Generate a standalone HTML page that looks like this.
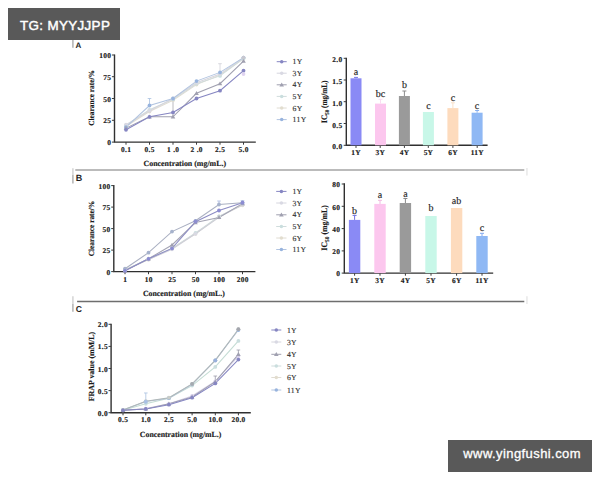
<!DOCTYPE html>
<html><head><meta charset="utf-8"><style>
html,body{margin:0;padding:0;background:#fff;}
body{width:600px;height:480px;position:relative;overflow:hidden;}
svg{position:absolute;left:0;top:0;text-rendering:geometricPrecision;}
.tk{font-family:"Liberation Serif", serif;font-weight:bold;font-size:7.4px;letter-spacing:0.3px;fill:#1a1a1a;stroke:#1a1a1a;stroke-width:0.15px;}
.ti{font-family:"Liberation Serif", serif;font-weight:bold;font-size:7.8px;fill:#1a1a1a;stroke:#1a1a1a;stroke-width:0.15px;}
.lg{font-family:"Liberation Serif", serif;font-size:7.7px;letter-spacing:0.35px;fill:#333;stroke:#333;stroke-width:0.15px;}
.lt{font-family:"Liberation Serif", serif;font-size:10px;fill:#262626;stroke:#262626;stroke-width:0.15px;}
.pl{font-family:"Liberation Sans", sans-serif;font-weight:bold;font-size:8px;fill:#1e1e1e;}
.wm{position:absolute;background:#595959;color:#fff;font-family:"Liberation Sans", sans-serif;}
</style></head><body>
<svg width="600" height="480" viewBox="0 0 600 480">

<path d="M75.3 170.1H524.3" stroke="#a4a4a4" stroke-width="1.5"/>
<path d="M77.1 301.4H524.3" stroke="#6e6e6e" stroke-width="1.5"/>
<path d="M72.9 40V47.8M72.9 175V183.6M72.9 304V311.8" stroke="#b2b2b2" stroke-width="1.5"/>
<path d="M72.9 168.2V175M72.9 296.2V304" stroke="#d4d4d4" stroke-width="1.5"/>
<path d="M526.9 168V175.5M526.9 296.2V304" stroke="#ececec" stroke-width="1.8"/>
<text x="75.6" y="48" class="pl">A</text>
<text x="75.8" y="180.8" class="pl" style="font-size:9px">B</text>
<text x="75.8" y="312" class="pl" style="font-size:8.6px">C</text>
<path d="M114.5 54.5V142.1H255.8" fill="none" stroke="#303030" stroke-width="1.4" stroke-linejoin="miter"/>
<path d="M111.9 142.1H114.5" stroke="#3a3a3a" stroke-width="1"/>
<path d="M111.9 120.3H114.5" stroke="#3a3a3a" stroke-width="1"/>
<path d="M111.9 98.5H114.5" stroke="#3a3a3a" stroke-width="1"/>
<path d="M111.9 76.7H114.5" stroke="#3a3a3a" stroke-width="1"/>
<path d="M111.9 55H114.5" stroke="#3a3a3a" stroke-width="1"/>
<path d="M126 142.1V144.7" stroke="#3a3a3a" stroke-width="1"/>
<path d="M149.5 142.1V144.7" stroke="#3a3a3a" stroke-width="1"/>
<path d="M173 142.1V144.7" stroke="#3a3a3a" stroke-width="1"/>
<path d="M196.5 142.1V144.7" stroke="#3a3a3a" stroke-width="1"/>
<path d="M220 142.1V144.7" stroke="#3a3a3a" stroke-width="1"/>
<path d="M243.5 142.1V144.7" stroke="#3a3a3a" stroke-width="1"/>
<text x="111.20" y="145.10" text-anchor="end" class="tk">0</text>
<text x="111.20" y="123.30" text-anchor="end" class="tk">25</text>
<text x="111.20" y="101.50" text-anchor="end" class="tk">50</text>
<text x="111.20" y="79.70" text-anchor="end" class="tk">75</text>
<text x="111.20" y="58.00" text-anchor="end" class="tk">100</text>
<text x="126.15" y="152.20" text-anchor="middle" class="tk">0.1</text>
<text x="149.65" y="152.20" text-anchor="middle" class="tk">0.5</text>
<text x="173.15" y="152.20" text-anchor="middle" class="tk">1 .0</text>
<text x="196.65" y="152.20" text-anchor="middle" class="tk">2 .0</text>
<text x="220.15" y="152.20" text-anchor="middle" class="tk">2.5</text>
<text x="243.65" y="152.20" text-anchor="middle" class="tk">5.0</text>
<path d="M126.0 126.3 L149.5 111.5 L173.0 100.2 L196.5 84.6 L220.0 75.0 L243.5 58.5" fill="none" stroke="#e0dcd2" stroke-width="1.05"/>
<path d="M126.0 125.5 L149.5 109.8 L173.0 99.4 L196.5 83.7 L220.0 75.9 L243.5 58.5" fill="none" stroke="#d0dcdc" stroke-width="1.05"/>
<path d="M126.0 124.6 L149.5 110.7 L173.0 98.5 L196.5 82.8 L220.0 74.1 L243.5 57.6" fill="none" stroke="#d6d6de" stroke-width="1.05"/>
<path d="M126.0 127.2 L149.5 105.5 L173.0 98.5 L196.5 81.1 L220.0 72.4 L243.5 57.6" fill="none" stroke="#b2c4e0" stroke-width="1.05"/>
<path d="M126.0 128.1 L149.5 116.8 L173.0 116.8 L196.5 93.3 L220.0 83.7 L243.5 61.1" fill="none" stroke="#a0a0b0" stroke-width="1.05"/>
<path d="M126.0 129.8 L149.5 116.8 L173.0 112.4 L196.5 98.5 L220.0 90.7 L243.5 70.7" fill="none" stroke="#8686c2" stroke-width="1.05"/>
<path d="M149.5 105.46000000000001V98.5M147.7 98.5H151.3" stroke="#a8c0e0" stroke-width="0.8" fill="none"/>
<path d="M173 117.64V100.24000000000001M171.2 100.24000000000001H174.8" stroke="#a8a8b0" stroke-width="0.8" fill="none"/>
<path d="M220 75.01V63.7M218.2 63.7H221.8" stroke="#d0d0d8" stroke-width="0.8" fill="none"/>
<circle cx="126.0" cy="126.3" r="1.9" fill="#e2ddcf"/>
<circle cx="149.5" cy="111.5" r="1.9" fill="#e2ddcf"/>
<circle cx="173.0" cy="100.2" r="1.9" fill="#e2ddcf"/>
<circle cx="196.5" cy="84.6" r="1.9" fill="#e2ddcf"/>
<circle cx="220.0" cy="75.0" r="1.9" fill="#e2ddcf"/>
<circle cx="243.5" cy="58.5" r="1.9" fill="#e2ddcf"/>
<circle cx="126.0" cy="125.5" r="1.9" fill="#cadede"/>
<circle cx="149.5" cy="109.8" r="1.9" fill="#cadede"/>
<circle cx="173.0" cy="99.4" r="1.9" fill="#cadede"/>
<circle cx="196.5" cy="83.7" r="1.9" fill="#cadede"/>
<circle cx="220.0" cy="75.9" r="1.9" fill="#cadede"/>
<circle cx="243.5" cy="58.5" r="1.9" fill="#cadede"/>
<circle cx="126.0" cy="124.6" r="1.9" fill="#d9d9e3"/>
<circle cx="149.5" cy="110.7" r="1.9" fill="#d9d9e3"/>
<circle cx="173.0" cy="98.5" r="1.9" fill="#d9d9e3"/>
<circle cx="196.5" cy="82.8" r="1.9" fill="#d9d9e3"/>
<circle cx="220.0" cy="74.1" r="1.9" fill="#d9d9e3"/>
<circle cx="243.5" cy="57.6" r="1.9" fill="#d9d9e3"/>
<circle cx="126.0" cy="127.2" r="1.9" fill="#98b4de"/>
<circle cx="149.5" cy="105.5" r="1.9" fill="#98b4de"/>
<circle cx="173.0" cy="98.5" r="1.9" fill="#98b4de"/>
<circle cx="196.5" cy="81.1" r="1.9" fill="#98b4de"/>
<circle cx="220.0" cy="72.4" r="1.9" fill="#98b4de"/>
<circle cx="243.5" cy="57.6" r="1.9" fill="#98b4de"/>
<path d="M123.7 129.7L128.3 129.7L126.0 125.8Z" fill="#a0a0b0"/>
<path d="M147.2 118.4L151.8 118.4L149.5 114.5Z" fill="#a0a0b0"/>
<path d="M170.7 118.4L175.3 118.4L173.0 114.5Z" fill="#a0a0b0"/>
<path d="M194.2 94.9L198.8 94.9L196.5 91.0Z" fill="#a0a0b0"/>
<path d="M217.7 85.3L222.3 85.3L220.0 81.4Z" fill="#a0a0b0"/>
<path d="M241.2 62.7L245.8 62.7L243.5 58.8Z" fill="#a0a0b0"/>
<circle cx="126.0" cy="129.8" r="1.9" fill="#8686c2"/>
<circle cx="149.5" cy="116.8" r="1.9" fill="#8686c2"/>
<circle cx="173.0" cy="112.4" r="1.9" fill="#8686c2"/>
<circle cx="196.5" cy="98.5" r="1.9" fill="#8686c2"/>
<circle cx="220.0" cy="90.7" r="1.9" fill="#8686c2"/>
<circle cx="243.5" cy="70.7" r="1.9" fill="#8686c2"/>
<circle cx="243.5" cy="74.1" r="1.9" fill="#e0d4f0"/>
<circle cx="243.5" cy="57.6" r="1.9" fill="#c8c8d0"/>
<text transform="translate(93.6,98) rotate(-90)" text-anchor="middle" class="ti" textLength="55.5" lengthAdjust="spacingAndGlyphs">Clearance rate/%</text>
<text x="184.8" y="166" text-anchor="middle" class="ti" textLength="82.5" lengthAdjust="spacingAndGlyphs">Concentration (mg/mL.)</text>
<path d="M276.7 61.7H286.7" stroke="#8686c2" stroke-width="1"/>
<circle cx="281.7" cy="61.7" r="1.75" fill="#8686c2"/>
<text x="292.59999999999997" y="64.3" class="lg">1Y</text>
<path d="M276.7 73.2H286.7" stroke="#d6d6de" stroke-width="1"/>
<circle cx="281.7" cy="73.2" r="1.75" fill="#d9d9e3"/>
<text x="292.59999999999997" y="75.8" class="lg">3Y</text>
<path d="M276.7 84.8H286.7" stroke="#a0a0b0" stroke-width="1"/>
<path d="M279.4 86.4L284.0 86.4L281.7 82.5Z" fill="#a0a0b0"/>
<text x="292.59999999999997" y="87.39999999999999" class="lg">4Y</text>
<path d="M276.7 96.4H286.7" stroke="#d0dcdc" stroke-width="1"/>
<circle cx="281.7" cy="96.4" r="1.75" fill="#cadede"/>
<text x="292.59999999999997" y="99.0" class="lg">5Y</text>
<path d="M276.7 108H286.7" stroke="#e0dcd2" stroke-width="1"/>
<circle cx="281.7" cy="108.0" r="1.75" fill="#e2ddcf"/>
<text x="292.59999999999997" y="110.6" class="lg">6Y</text>
<path d="M276.7 119.6H286.7" stroke="#b2c4e0" stroke-width="1"/>
<circle cx="281.7" cy="119.6" r="1.75" fill="#98b4de"/>
<text x="292.59999999999997" y="122.19999999999999" class="lg">11Y</text>
<path d="M346.3 57.8V145.3H487.6" fill="none" stroke="#303030" stroke-width="1.4" stroke-linejoin="miter"/>
<path d="M343.7 145.3H346.3" stroke="#3a3a3a" stroke-width="1"/>
<path d="M343.7 123.5H346.3" stroke="#3a3a3a" stroke-width="1"/>
<path d="M343.7 101.7H346.3" stroke="#3a3a3a" stroke-width="1"/>
<path d="M343.7 80.0H346.3" stroke="#3a3a3a" stroke-width="1"/>
<path d="M343.7 58.3H346.3" stroke="#3a3a3a" stroke-width="1"/>
<path d="M356 145.3V147.9" stroke="#3a3a3a" stroke-width="1"/>
<path d="M380.2 145.3V147.9" stroke="#3a3a3a" stroke-width="1"/>
<path d="M404.4 145.3V147.9" stroke="#3a3a3a" stroke-width="1"/>
<path d="M428.3 145.3V147.9" stroke="#3a3a3a" stroke-width="1"/>
<path d="M452.9 145.3V147.9" stroke="#3a3a3a" stroke-width="1"/>
<path d="M477.2 145.3V147.9" stroke="#3a3a3a" stroke-width="1"/>
<text x="342.50" y="149.30" text-anchor="end" class="tk">0.0</text>
<text x="342.50" y="127.50" text-anchor="end" class="tk">0.5</text>
<text x="342.50" y="105.70" text-anchor="end" class="tk">1.0</text>
<text x="342.50" y="84.00" text-anchor="end" class="tk">1.5</text>
<text x="342.50" y="62.30" text-anchor="end" class="tk">2.0</text>
<text x="356.15" y="155.40" text-anchor="middle" class="tk">1Y</text>
<text x="380.34999999999997" y="155.40" text-anchor="middle" class="tk">3Y</text>
<text x="404.54999999999995" y="155.40" text-anchor="middle" class="tk">4Y</text>
<text x="428.45" y="155.40" text-anchor="middle" class="tk">5Y</text>
<text x="453.04999999999995" y="155.40" text-anchor="middle" class="tk">6Y</text>
<text x="477.34999999999997" y="155.40" text-anchor="middle" class="tk">11Y</text>
<rect x="350.50" y="78.30" width="11" height="67.00" fill="#8a8af5"/>
<path d="M356 78.30V77.40M354 77.40H358" stroke="#7878e8" stroke-width="1" fill="none"/>
<text x="356" y="75.1" text-anchor="middle" class="lt">a</text>
<rect x="375.00" y="103.60" width="11" height="41.70" fill="#fcc7ee"/>
<path d="M380.5 103.60V99.30M378.5 99.30H382.5" stroke="#fadcf2" stroke-width="1" fill="none"/>
<text x="380.5" y="96.6" text-anchor="middle" class="lt">bc</text>
<rect x="398.90" y="96.00" width="11" height="49.30" fill="#9a9a9a"/>
<path d="M404.4 96.00V91.00M402.4 91.00H406.4" stroke="#8c8c8c" stroke-width="1" fill="none"/>
<text x="404.4" y="88.3" text-anchor="middle" class="lt">b</text>
<rect x="422.90" y="112.00" width="11" height="33.30" fill="#c8f7e8"/>
<text x="428.4" y="109.2" text-anchor="middle" class="lt">c</text>
<rect x="447.40" y="108.10" width="11" height="37.20" fill="#fddbbd"/>
<path d="M452.9 108.10V102.80M450.9 102.80H454.9" stroke="#f8e0c8" stroke-width="1" fill="none"/>
<text x="452.9" y="101" text-anchor="middle" class="lt">c</text>
<rect x="471.60" y="112.70" width="11" height="32.60" fill="#8fb8f4"/>
<path d="M477.1 112.70V110.50M475.1 110.50H479.1" stroke="#88b0f0" stroke-width="1" fill="none"/>
<text x="477.1" y="108.5" text-anchor="middle" class="lt">c</text>
<text transform="translate(327,101.7) rotate(-90)" text-anchor="middle" class="ti" style="font-size:8.4px" textLength="42.5" lengthAdjust="spacingAndGlyphs">IC<tspan font-size="5.8" dy="1.5">50</tspan><tspan dy="-1.5"> (mg/mL)</tspan></text>
<path d="M113.8 185.1V271.6H255.4" fill="none" stroke="#303030" stroke-width="1.4" stroke-linejoin="miter"/>
<path d="M111.2 271.6H113.8" stroke="#3a3a3a" stroke-width="1"/>
<path d="M111.2 250.1H113.8" stroke="#3a3a3a" stroke-width="1"/>
<path d="M111.2 228.6H113.8" stroke="#3a3a3a" stroke-width="1"/>
<path d="M111.2 207.1H113.8" stroke="#3a3a3a" stroke-width="1"/>
<path d="M111.2 185.6H113.8" stroke="#3a3a3a" stroke-width="1"/>
<path d="M125 271.6V274.20000000000005" stroke="#3a3a3a" stroke-width="1"/>
<path d="M148.5 271.6V274.20000000000005" stroke="#3a3a3a" stroke-width="1"/>
<path d="M172 271.6V274.20000000000005" stroke="#3a3a3a" stroke-width="1"/>
<path d="M195.5 271.6V274.20000000000005" stroke="#3a3a3a" stroke-width="1"/>
<path d="M219 271.6V274.20000000000005" stroke="#3a3a3a" stroke-width="1"/>
<path d="M242.5 271.6V274.20000000000005" stroke="#3a3a3a" stroke-width="1"/>
<text x="110.50" y="274.60" text-anchor="end" class="tk">0</text>
<text x="110.50" y="253.10" text-anchor="end" class="tk">25</text>
<text x="110.50" y="231.60" text-anchor="end" class="tk">50</text>
<text x="110.50" y="210.10" text-anchor="end" class="tk">75</text>
<text x="110.50" y="188.60" text-anchor="end" class="tk">100</text>
<text x="125.15" y="281.70" text-anchor="middle" class="tk">1</text>
<text x="148.65" y="281.70" text-anchor="middle" class="tk">10</text>
<text x="172.15" y="281.70" text-anchor="middle" class="tk">25</text>
<text x="195.65" y="281.70" text-anchor="middle" class="tk">50</text>
<text x="219.15" y="281.70" text-anchor="middle" class="tk">100</text>
<text x="242.65" y="281.70" text-anchor="middle" class="tk">200</text>
<path d="M125.0 270.0 L148.5 259.6 L172.0 248.4 L195.5 233.8 L219.0 216.5 L242.5 205.3" fill="none" stroke="#d8d6cc" stroke-width="1.05"/>
<path d="M125.0 270.0 L148.5 258.8 L172.0 248.4 L195.5 232.9 L219.0 216.5 L242.5 204.5" fill="none" stroke="#d0dcdc" stroke-width="1.05"/>
<path d="M125.0 270.0 L148.5 259.6 L172.0 249.3 L195.5 233.8 L219.0 217.4 L242.5 204.5" fill="none" stroke="#cfcfd8" stroke-width="1.05"/>
<path d="M125.0 270.8 L148.5 258.8 L172.0 245.0 L195.5 222.6 L219.0 217.4 L242.5 203.6" fill="none" stroke="#a4a4b4" stroke-width="1.05"/>
<path d="M125.0 268.7 L148.5 252.7 L172.0 231.6 L195.5 220.8 L219.0 204.5 L242.5 202.7" fill="none" stroke="#aab0c2" stroke-width="1.05"/>
<path d="M125.0 270.8 L148.5 258.8 L172.0 248.4 L195.5 221.7 L219.0 210.5 L242.5 202.7" fill="none" stroke="#8c8cc4" stroke-width="1.05"/>
<path d="M219 204.464V201.016M217.2 201.016H220.8" stroke="#a8b8e0" stroke-width="0.8" fill="none"/>
<path d="M242.5 202.74V200.58499999999998M240.7 200.58499999999998H244.3" stroke="#a8b8e0" stroke-width="0.8" fill="none"/>
<circle cx="125.0" cy="270.0" r="1.9" fill="#e2ddcf"/>
<circle cx="148.5" cy="259.6" r="1.9" fill="#e2ddcf"/>
<circle cx="172.0" cy="248.4" r="1.9" fill="#e2ddcf"/>
<circle cx="195.5" cy="233.8" r="1.9" fill="#e2ddcf"/>
<circle cx="219.0" cy="216.5" r="1.9" fill="#e2ddcf"/>
<circle cx="242.5" cy="205.3" r="1.9" fill="#e2ddcf"/>
<circle cx="125.0" cy="270.0" r="1.9" fill="#cadede"/>
<circle cx="148.5" cy="258.8" r="1.9" fill="#cadede"/>
<circle cx="172.0" cy="248.4" r="1.9" fill="#cadede"/>
<circle cx="195.5" cy="232.9" r="1.9" fill="#cadede"/>
<circle cx="219.0" cy="216.5" r="1.9" fill="#cadede"/>
<circle cx="242.5" cy="204.5" r="1.9" fill="#cadede"/>
<circle cx="125.0" cy="270.0" r="1.9" fill="#d9d9e3"/>
<circle cx="148.5" cy="259.6" r="1.9" fill="#d9d9e3"/>
<circle cx="172.0" cy="249.3" r="1.9" fill="#d9d9e3"/>
<circle cx="195.5" cy="233.8" r="1.9" fill="#d9d9e3"/>
<circle cx="219.0" cy="217.4" r="1.9" fill="#d9d9e3"/>
<circle cx="242.5" cy="204.5" r="1.9" fill="#d9d9e3"/>
<path d="M122.7 272.4L127.3 272.4L125.0 268.5Z" fill="#a0a0b0"/>
<path d="M146.2 260.4L150.8 260.4L148.5 256.5Z" fill="#a0a0b0"/>
<path d="M169.7 246.6L174.3 246.6L172.0 242.7Z" fill="#a0a0b0"/>
<path d="M193.2 224.2L197.8 224.2L195.5 220.3Z" fill="#a0a0b0"/>
<path d="M216.7 219.0L221.3 219.0L219.0 215.1Z" fill="#a0a0b0"/>
<path d="M240.2 205.2L244.8 205.2L242.5 201.3Z" fill="#a0a0b0"/>
<circle cx="125.0" cy="268.7" r="1.9" fill="#a6b2cc"/>
<circle cx="148.5" cy="252.7" r="1.9" fill="#a6b2cc"/>
<circle cx="172.0" cy="231.6" r="1.9" fill="#a6b2cc"/>
<circle cx="195.5" cy="220.8" r="1.9" fill="#a6b2cc"/>
<circle cx="219.0" cy="204.5" r="1.9" fill="#a6b2cc"/>
<circle cx="242.5" cy="202.7" r="1.9" fill="#a6b2cc"/>
<circle cx="125.0" cy="270.8" r="1.9" fill="#8c8cd2"/>
<circle cx="148.5" cy="258.8" r="1.9" fill="#8c8cd2"/>
<circle cx="172.0" cy="248.4" r="1.9" fill="#8c8cd2"/>
<circle cx="195.5" cy="221.7" r="1.9" fill="#8c8cd2"/>
<circle cx="219.0" cy="210.5" r="1.9" fill="#8c8cd2"/>
<circle cx="242.5" cy="202.7" r="1.9" fill="#8c8cd2"/>
<circle cx="195.5" cy="221.3" r="1.9" fill="#8e8ed0"/>
<text transform="translate(93.6,228.6) rotate(-90)" text-anchor="middle" class="ti" textLength="55.5" lengthAdjust="spacingAndGlyphs">Clearance rate/%</text>
<text x="183.9" y="296" text-anchor="middle" class="ti" textLength="82" lengthAdjust="spacingAndGlyphs">Concentration (mg/mL.)</text>
<path d="M276.2 191.4H286.5" stroke="#8686c2" stroke-width="1"/>
<circle cx="281.4" cy="191.4" r="1.75" fill="#8686c2"/>
<text x="292.4" y="194.0" class="lg">1Y</text>
<path d="M276.2 203H286.5" stroke="#d6d6de" stroke-width="1"/>
<circle cx="281.4" cy="203.0" r="1.75" fill="#d9d9e3"/>
<text x="292.4" y="205.6" class="lg">3Y</text>
<path d="M276.2 214.8H286.5" stroke="#a0a0b0" stroke-width="1"/>
<path d="M279.1 216.4L283.7 216.4L281.4 212.5Z" fill="#a0a0b0"/>
<text x="292.4" y="217.4" class="lg">4Y</text>
<path d="M276.2 226.5H286.5" stroke="#d0dcdc" stroke-width="1"/>
<circle cx="281.4" cy="226.5" r="1.75" fill="#cadede"/>
<text x="292.4" y="229.1" class="lg">5Y</text>
<path d="M276.2 238H286.5" stroke="#e0dcd2" stroke-width="1"/>
<circle cx="281.4" cy="238.0" r="1.75" fill="#e2ddcf"/>
<text x="292.4" y="240.6" class="lg">6Y</text>
<path d="M276.2 249.5H286.5" stroke="#b2c4e0" stroke-width="1"/>
<circle cx="281.4" cy="249.5" r="1.75" fill="#98b4de"/>
<text x="292.4" y="252.1" class="lg">11Y</text>
<path d="M344.3 183.3V273.1H493.2" fill="none" stroke="#303030" stroke-width="1.4" stroke-linejoin="miter"/>
<path d="M341.7 273.1H344.3" stroke="#3a3a3a" stroke-width="1"/>
<path d="M341.7 250.9H344.3" stroke="#3a3a3a" stroke-width="1"/>
<path d="M341.7 228.6H344.3" stroke="#3a3a3a" stroke-width="1"/>
<path d="M341.7 206.3H344.3" stroke="#3a3a3a" stroke-width="1"/>
<path d="M341.7 184.0H344.3" stroke="#3a3a3a" stroke-width="1"/>
<path d="M354.6 273.1V275.70000000000005" stroke="#3a3a3a" stroke-width="1"/>
<path d="M380 273.1V275.70000000000005" stroke="#3a3a3a" stroke-width="1"/>
<path d="M405.4 273.1V275.70000000000005" stroke="#3a3a3a" stroke-width="1"/>
<path d="M431 273.1V275.70000000000005" stroke="#3a3a3a" stroke-width="1"/>
<path d="M456.6 273.1V275.70000000000005" stroke="#3a3a3a" stroke-width="1"/>
<path d="M482 273.1V275.70000000000005" stroke="#3a3a3a" stroke-width="1"/>
<text x="340.30" y="276.30" text-anchor="end" class="tk">0</text>
<text x="340.30" y="254.10" text-anchor="end" class="tk">20</text>
<text x="340.30" y="231.80" text-anchor="end" class="tk">40</text>
<text x="340.30" y="209.50" text-anchor="end" class="tk">60</text>
<text x="340.30" y="187.20" text-anchor="end" class="tk">80</text>
<text x="354.75" y="283.20" text-anchor="middle" class="tk">1Y</text>
<text x="380.15" y="283.20" text-anchor="middle" class="tk">3Y</text>
<text x="405.54999999999995" y="283.20" text-anchor="middle" class="tk">4Y</text>
<text x="431.15" y="283.20" text-anchor="middle" class="tk">5Y</text>
<text x="456.75" y="283.20" text-anchor="middle" class="tk">6Y</text>
<text x="482.15" y="283.20" text-anchor="middle" class="tk">11Y</text>
<rect x="348.90" y="219.90" width="11.4" height="53.20" fill="#8a8af5"/>
<path d="M354.6 219.90V215.40M352.6 215.40H356.6" stroke="#7070e0" stroke-width="1" fill="none"/>
<text x="354.6" y="213.7" text-anchor="middle" class="lt">b</text>
<rect x="374.30" y="203.90" width="11.4" height="69.20" fill="#fcc7ee"/>
<path d="M380 203.90V200.30M378 200.30H382" stroke="#f0b8e0" stroke-width="1" fill="none"/>
<text x="380" y="197.9" text-anchor="middle" class="lt">a</text>
<rect x="399.70" y="203.00" width="11.4" height="70.10" fill="#9a9a9a"/>
<path d="M405.4 203.00V198.50M403.4 198.50H407.4" stroke="#888888" stroke-width="1" fill="none"/>
<text x="405.4" y="196.7" text-anchor="middle" class="lt">a</text>
<rect x="425.30" y="216.00" width="11.4" height="57.10" fill="#c8f7e8"/>
<text x="431" y="211.1" text-anchor="middle" class="lt">b</text>
<rect x="450.90" y="208.00" width="11.4" height="65.10" fill="#fddbbd"/>
<text x="456.6" y="204.4" text-anchor="middle" class="lt">ab</text>
<rect x="476.30" y="236.00" width="11.4" height="37.10" fill="#8fb8f4"/>
<path d="M482 236.00V233.30M480 233.30H484" stroke="#80a8f0" stroke-width="1" fill="none"/>
<text x="482" y="230.7" text-anchor="middle" class="lt">c</text>
<text transform="translate(327,227.9) rotate(-90)" text-anchor="middle" class="ti" style="font-size:8.4px" textLength="45.5" lengthAdjust="spacingAndGlyphs">IC<tspan font-size="5.8" dy="1.5">50</tspan><tspan dy="-1.5"> (mg/mL)</tspan></text>
<path d="M111.1 323.8V412.7H250.8" fill="none" stroke="#303030" stroke-width="1.4" stroke-linejoin="miter"/>
<path d="M108.5 412.7H111.1" stroke="#3a3a3a" stroke-width="1"/>
<path d="M108.5 390.6H111.1" stroke="#3a3a3a" stroke-width="1"/>
<path d="M108.5 368.5H111.1" stroke="#3a3a3a" stroke-width="1"/>
<path d="M108.5 346.4H111.1" stroke="#3a3a3a" stroke-width="1"/>
<path d="M108.5 324.3H111.1" stroke="#3a3a3a" stroke-width="1"/>
<path d="M123 412.7V415.3" stroke="#3a3a3a" stroke-width="1"/>
<path d="M145.8 412.7V415.3" stroke="#3a3a3a" stroke-width="1"/>
<path d="M168.9 412.7V415.3" stroke="#3a3a3a" stroke-width="1"/>
<path d="M192.1 412.7V415.3" stroke="#3a3a3a" stroke-width="1"/>
<path d="M215.3 412.7V415.3" stroke="#3a3a3a" stroke-width="1"/>
<path d="M238.4 412.7V415.3" stroke="#3a3a3a" stroke-width="1"/>
<text x="107.90" y="415.70" text-anchor="end" class="tk">0.0</text>
<text x="107.90" y="393.60" text-anchor="end" class="tk">0.5</text>
<text x="107.90" y="371.50" text-anchor="end" class="tk">1.0</text>
<text x="107.90" y="349.40" text-anchor="end" class="tk">1.5</text>
<text x="107.90" y="327.30" text-anchor="end" class="tk">2.0</text>
<text x="123.15" y="422.30" text-anchor="middle" class="tk">0.5</text>
<text x="145.95000000000002" y="422.30" text-anchor="middle" class="tk">1.0</text>
<text x="169.05" y="422.30" text-anchor="middle" class="tk">2.5</text>
<text x="192.25" y="422.30" text-anchor="middle" class="tk">5.0</text>
<text x="215.45000000000002" y="422.30" text-anchor="middle" class="tk">10.0</text>
<text x="238.55" y="422.30" text-anchor="middle" class="tk">20.0</text>
<path d="M123.0 410.3 L145.8 408.6 L168.9 403.8 L192.1 396.0 L215.3 381.3 L238.4 356.1" fill="none" stroke="#d8d2ea" stroke-width="1.05"/>
<path d="M123.0 410.3 L145.8 403.8 L168.9 398.2 L192.1 385.6 L215.3 366.9 L238.4 340.9" fill="none" stroke="#c4dcd4" stroke-width="1.05"/>
<path d="M123.0 409.9 L145.8 401.6 L168.9 398.2 L192.1 384.3 L215.3 360.4 L238.4 330.0" fill="none" stroke="#b4c4dc" stroke-width="1.05"/>
<path d="M123.0 409.9 L145.8 401.2 L168.9 397.7 L192.1 383.9 L215.3 360.4 L238.4 329.2" fill="none" stroke="#b0b8b8" stroke-width="1.05"/>
<path d="M123.0 410.3 L145.8 409.0 L168.9 403.8 L192.1 396.9 L215.3 381.7 L238.4 354.3" fill="none" stroke="#a0a0b0" stroke-width="1.05"/>
<path d="M123.0 410.3 L145.8 409.0 L168.9 404.7 L192.1 397.7 L215.3 383.4 L238.4 359.6" fill="none" stroke="#8686c2" stroke-width="1.05"/>
<path d="M145.8 401.65V392.97M144.0 392.97H147.60000000000002" stroke="#a8c0e0" stroke-width="0.8" fill="none"/>
<path d="M215.3 381.686V376.044M213.5 376.044H217.10000000000002" stroke="#9a9aa8" stroke-width="0.8" fill="none"/>
<path d="M238.4 354.344V350.004M236.6 350.004H240.20000000000002" stroke="#9a9aa8" stroke-width="0.8" fill="none"/>
<circle cx="123.0" cy="410.3" r="1.9" fill="#d8d0ec"/>
<circle cx="145.8" cy="408.6" r="1.9" fill="#d8d0ec"/>
<circle cx="168.9" cy="403.8" r="1.9" fill="#d8d0ec"/>
<circle cx="192.1" cy="396.0" r="1.9" fill="#d8d0ec"/>
<circle cx="215.3" cy="381.3" r="1.9" fill="#d8d0ec"/>
<circle cx="238.4" cy="356.1" r="1.9" fill="#d8d0ec"/>
<circle cx="123.0" cy="410.3" r="1.9" fill="#cadede"/>
<circle cx="145.8" cy="403.8" r="1.9" fill="#cadede"/>
<circle cx="168.9" cy="398.2" r="1.9" fill="#cadede"/>
<circle cx="192.1" cy="385.6" r="1.9" fill="#cadede"/>
<circle cx="215.3" cy="366.9" r="1.9" fill="#cadede"/>
<circle cx="238.4" cy="340.9" r="1.9" fill="#cadede"/>
<circle cx="123.0" cy="409.9" r="1.9" fill="#98b4de"/>
<circle cx="145.8" cy="401.6" r="1.9" fill="#98b4de"/>
<circle cx="168.9" cy="398.2" r="1.9" fill="#98b4de"/>
<circle cx="192.1" cy="384.3" r="1.9" fill="#98b4de"/>
<circle cx="215.3" cy="360.4" r="1.9" fill="#98b4de"/>
<circle cx="238.4" cy="330.0" r="1.9" fill="#98b4de"/>
<circle cx="123.0" cy="409.9" r="1.9" fill="#c8ccc8"/>
<circle cx="145.8" cy="401.2" r="1.9" fill="#c8ccc8"/>
<circle cx="168.9" cy="397.7" r="1.9" fill="#c8ccc8"/>
<circle cx="192.1" cy="383.9" r="1.9" fill="#c8ccc8"/>
<circle cx="215.3" cy="360.4" r="1.9" fill="#c8ccc8"/>
<circle cx="238.4" cy="329.2" r="1.9" fill="#c8ccc8"/>
<path d="M120.7 411.9L125.3 411.9L123.0 408.0Z" fill="#a0a0b0"/>
<path d="M143.5 410.6L148.1 410.6L145.8 406.7Z" fill="#a0a0b0"/>
<path d="M166.6 405.4L171.2 405.4L168.9 401.5Z" fill="#a0a0b0"/>
<path d="M189.8 398.5L194.4 398.5L192.1 394.6Z" fill="#a0a0b0"/>
<path d="M213.0 383.3L217.6 383.3L215.3 379.4Z" fill="#a0a0b0"/>
<path d="M236.1 355.9L240.7 355.9L238.4 352.0Z" fill="#a0a0b0"/>
<circle cx="123.0" cy="410.3" r="1.9" fill="#8686c2"/>
<circle cx="145.8" cy="409.0" r="1.9" fill="#8686c2"/>
<circle cx="168.9" cy="404.7" r="1.9" fill="#8686c2"/>
<circle cx="192.1" cy="397.7" r="1.9" fill="#8686c2"/>
<circle cx="215.3" cy="383.4" r="1.9" fill="#8686c2"/>
<circle cx="238.4" cy="359.6" r="1.9" fill="#8686c2"/>
<circle cx="238.4" cy="329.2" r="1.9" fill="#a4a6ae"/>
<circle cx="192.1" cy="383.9" r="1.9" fill="#a4aab0"/>
<circle cx="215.3" cy="360.4" r="1.9" fill="#98b0dc"/>
<circle cx="145.8" cy="401.6" r="1.9" fill="#a8c0e4"/>
<text transform="translate(93.5,366.5) rotate(-90)" text-anchor="middle" class="ti" textLength="69.5" lengthAdjust="spacingAndGlyphs">FRAP value (mM/L)</text>
<text x="180.6" y="436.6" text-anchor="middle" class="ti" textLength="81.5" lengthAdjust="spacingAndGlyphs">Concentration (mg/mL.)</text>
<path d="M271.3 330H281.3" stroke="#8686c2" stroke-width="1"/>
<circle cx="276.3" cy="330.0" r="1.75" fill="#8686c2"/>
<text x="286.9" y="332.6" class="lg">1Y</text>
<path d="M271.3 342H281.3" stroke="#d6d6de" stroke-width="1"/>
<circle cx="276.3" cy="342.0" r="1.75" fill="#d9d9e3"/>
<text x="286.9" y="344.6" class="lg">3Y</text>
<path d="M271.3 354.3H281.3" stroke="#a0a0b0" stroke-width="1"/>
<path d="M274.0 355.9L278.6 355.9L276.3 352.0Z" fill="#a0a0b0"/>
<text x="286.9" y="356.90000000000003" class="lg">4Y</text>
<path d="M271.3 366H281.3" stroke="#d0dcdc" stroke-width="1"/>
<circle cx="276.3" cy="366.0" r="1.75" fill="#cadede"/>
<text x="286.9" y="368.6" class="lg">5Y</text>
<path d="M271.3 377.5H281.3" stroke="#e0dcd2" stroke-width="1"/>
<circle cx="276.3" cy="377.5" r="1.75" fill="#e2ddcf"/>
<text x="286.9" y="380.1" class="lg">6Y</text>
<path d="M271.3 390H281.3" stroke="#b2c4e0" stroke-width="1"/>
<circle cx="276.3" cy="390.0" r="1.75" fill="#98b4de"/>
<text x="286.9" y="392.6" class="lg">11Y</text>
</svg>
<div class="wm" style="left:8px;top:8px;width:112px;height:32px;"><span style="position:absolute;left:12px;top:9.5px;font-size:13.4px;-webkit-text-stroke:0.45px #fff;letter-spacing:0.35px;">TG: MYYJJPP</span></div>
<div class="wm" style="left:448px;top:440px;width:144px;height:32px;"><span style="position:absolute;left:15.3px;top:6.2px;font-size:13px;letter-spacing:0.42px;-webkit-text-stroke:0.3px #fff;">www.yingfushi.com</span></div>
</body></html>
